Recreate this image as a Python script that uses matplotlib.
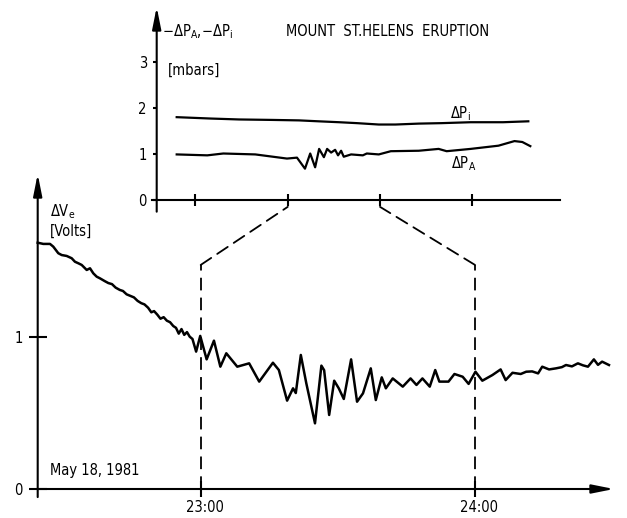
import matplotlib
matplotlib.use('Agg')
import matplotlib.pyplot as plt
from matplotlib.patches import ConnectionPatch
from matplotlib.transforms import ScaledTranslation

plt.rcParams['font.family'] = ['DejaVu Sans']
plt.rcParams['font.stretch'] = 'condensed'
plt.rcParams['mathtext.fontset'] = 'dejavusans'
plt.rcParams['mathtext.default'] = 'regular'

# minutes after 23:00, May 18 1981
ve_min = [-35.65, -34.43, -32.96, -32.24, -31.15, -30.40, -29.31, -28.22, -27.50, -26.77,
          -26.03, -24.93, -24.21, -23.49, -22.75, -22.03, -21.0, -20.2, -19.4, -18.6,
          -17.7, -17.0, -16.2, -15.4, -14.6, -13.8, -13.0, -12.3, -11.5, -10.8,
          -10.2, -9.5, -8.8, -8.1, -7.4, -6.7, -6.0, -5.4, -4.8, -4.2,
          -3.6, -3.0, -2.4, -1.8, -1.0, -0.1, 1.3, 2.9, 4.3, 5.6,
          8.0, 10.6, 12.8, 15.8, 17.1, 18.9, 20.2, 20.8, 21.9, 23.1,
          25.0, 26.4, 27.0, 28.1, 29.2, 30.2, 31.3, 32.9, 34.2, 35.5,
          37.2, 38.3, 39.6, 40.5, 42.0, 44.2, 45.9, 47.2, 48.5, 50.1,
          51.3, 52.2, 54.2, 55.5, 57.3, 58.6, 60.1, 61.6, 63.8, 65.6,
          66.7, 68.2, 70.0, 71.2, 72.5, 73.8, 74.7, 76.2, 77.7, 79.0,
          79.9, 81.2, 82.5, 83.6, 84.7, 86.0, 86.9, 87.8, 89.3]
ve_val = [1.617, 1.609, 1.609, 1.591, 1.548, 1.536, 1.530, 1.515, 1.492, 1.482,
          1.471, 1.438, 1.449, 1.416, 1.394, 1.383, 1.365, 1.352, 1.345, 1.322,
          1.307, 1.300, 1.278, 1.268, 1.258, 1.235, 1.220, 1.212, 1.190, 1.160,
          1.168, 1.145, 1.118, 1.128, 1.105, 1.095, 1.070, 1.058, 1.020, 1.050,
          1.012, 1.030, 1.000, 0.985, 0.902, 1.005, 0.851, 0.974, 0.803, 0.891,
          0.803, 0.825, 0.705, 0.829, 0.781, 0.580, 0.661, 0.630, 0.880, 0.694,
          0.431, 0.810, 0.780, 0.486, 0.711, 0.661, 0.591, 0.851, 0.573, 0.628,
          0.792, 0.584, 0.733, 0.661, 0.726, 0.672, 0.726, 0.683, 0.726, 0.672,
          0.781, 0.705, 0.705, 0.755, 0.737, 0.690, 0.770, 0.711, 0.748, 0.785,
          0.715, 0.763, 0.755, 0.770, 0.772, 0.759, 0.803, 0.785, 0.792, 0.800,
          0.814, 0.805, 0.825, 0.812, 0.803, 0.851, 0.815, 0.836, 0.814]

pi_min = [-72.2, -50, -31.7, -10, 7.3, 20, 33.4, 45, 59.2, 70, 85.2, 100, 118.9, 140, 156.4]
pi_val = [1.79, 1.76, 1.74, 1.73, 1.72, 1.70, 1.68, 1.66, 1.63, 1.63, 1.65, 1.66, 1.68, 1.68, 1.70]

pa_min = [-72.2, -52.3, -41.9, -21.1, -0.5, 6.0, 11.2, 14.6, 17.8, 20.4, 23.5, 25.6, 28.2,
          30.8, 32.7, 34.7, 36.4, 41.2, 48.8, 51.4, 59.2, 67.0, 85.2, 98.1, 103.3,
          118.9, 137.0, 147.4, 152.5, 157.7]
pa_val = [0.98, 0.96, 1.00, 0.98, 0.89, 0.91, 0.67, 1.00, 0.70, 1.10, 0.92, 1.10, 1.02,
          1.08, 0.96, 1.06, 0.93, 0.98, 0.96, 1.00, 0.98, 1.05, 1.06, 1.10, 1.05,
          1.10, 1.17, 1.27, 1.25, 1.16]

bottom_ticks = [0, 60]
bottom_labels = ['23:00', '24:00']
top_ticks = [-60, 0, 60, 120]
zoom_window = [0, 60]

W, H = 627, 518


def px_rect(l, t, r, b):
    return [l / W, 1 - b / H, (r - l) / W, (b - t) / H]


def fx(x):
    return x / W


def fy(y):
    return 1 - y / H


fig = plt.figure(figsize=(6.27, 5.18), dpi=100)

arrow = dict(arrowstyle='-|>,head_length=1.1,head_width=0.22', lw=1.5,
             color='black', mutation_scale=12, shrinkA=0, shrinkB=0)

# lower panel: electric potential
ax = fig.add_axes(px_rect(37.7, 174, 614, 489))
ax.set_facecolor('none')
ax.set_xlim(-35.65, 90.4)
ax.set_ylim(0, 2.068)
for s in ax.spines.values():
    s.set_visible(False)
ax.annotate('', xy=(90.4, 0), xytext=(-35.65, 0), arrowprops=arrow, annotation_clip=False)
ax.annotate('', xy=(-35.65, 2.068), xytext=(-35.65, -0.053), arrowprops=arrow,
            annotation_clip=False)
ax.plot(ve_min, ve_val, color='black', lw=1.8, solid_joinstyle='round', clip_on=False)
ax.set_xticks(bottom_ticks)
ax.set_xticklabels(bottom_labels)
ax.set_yticks([0, 1])
ax.set_yticklabels(['0', '1'])
ax.tick_params(axis='x', direction='inout', length=12, width=1.5, pad=2, labelsize=10.5)
ax.tick_params(axis='y', direction='inout', length=13.5, width=1.5, pad=4, labelsize=10.5)
for lab in ax.get_xticklabels():
    lab.set_transform(lab.get_transform() + ScaledTranslation(0.04, 0, fig.dpi_scale_trans))

# upper panel: pressure
top = fig.add_axes(px_rect(156.7, 7, 560, 199.5))
top.set_facecolor('none')
top.set_xlim(-85.2, 177)
top.set_ylim(0, 4.185)
for s in top.spines.values():
    s.set_visible(False)
top.plot([-88.4, 177], [0, 0], color='black', lw=1.5, clip_on=False)
top.annotate('', xy=(-85.2, 4.185), xytext=(-85.2, -0.265), arrowprops=arrow,
             annotation_clip=False)
top.plot(pi_min, pi_val, color='black', lw=1.6, solid_joinstyle='round')
top.plot(pa_min, pa_val, color='black', lw=1.6, solid_joinstyle='round')
top.set_xticks(top_ticks)
top.set_xticklabels([])
top.set_yticks([0, 1, 2, 3])
top.set_yticklabels(['0', '1', '2', '3'])
top.tick_params(axis='x', direction='inout', length=8.5, width=1.5)
top.tick_params(axis='y', direction='out', length=3, width=1.5, pad=4, labelsize=10.5)

# zoom connectors
for t in zoom_window:
    ax.plot([t, t], [0, 1.471], color='black', lw=1.3, ls=(0, (7, 4)))
    con = ConnectionPatch(xyA=(t, 1.471), coordsA=ax.transData,
                          xyB=(t, -0.16), coordsB=top.transData,
                          color='black', lw=1.3, ls=(0, (7, 4)))
    fig.add_artist(con)

# texts
fig.text(fx(388), fy(31.5), 'MOUNT  ST.HELENS  ERUPTION', ha='center', va='center', fontsize=10.5)
fig.text(fx(162), fy(36), r'$-\Delta P_{A}$,$-\Delta P_{i}$', ha='left', va='baseline', fontsize=10.5)
fig.text(fx(168), fy(70.5), '[mbars]', ha='left', va='center', fontsize=10.5)
fig.text(fx(450), fy(118), r'$\Delta P_{i}$', ha='left', va='baseline', fontsize=10.5)
fig.text(fx(451), fy(168), r'$\Delta P_{A}$', ha='left', va='baseline', fontsize=10.5)
fig.text(fx(50), fy(216), r'$\Delta V_{e}$', ha='left', va='baseline', fontsize=10.5)
fig.text(fx(50), fy(231), '[Volts]', ha='left', va='center', fontsize=10.5)
fig.text(fx(50), fy(470), 'May 18, 1981', ha='left', va='center', fontsize=10.5)

fig.savefig('out.png', dpi=100)
